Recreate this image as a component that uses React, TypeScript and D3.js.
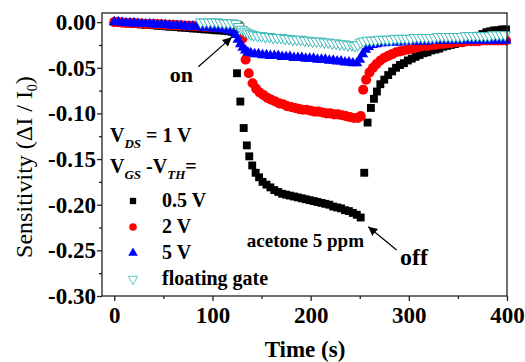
import * as d3 from "d3";
import { useEffect, useRef } from "react";

// [time (s), sensitivity ΔI/I0]
const gate05V: [number, number][] = [
  [0, 0], [4, -0.0005], [8, -0.001], [12, -0.001], [16, -0.0015], [20, -0.002], [24, -0.002], [28, -0.0025],
  [32, -0.003], [36, -0.003], [40, -0.0035], [44, -0.004], [48, -0.004], [52, -0.0045], [56, -0.005], [60, -0.005],
  [64, -0.0055], [68, -0.006], [72, -0.006], [76, -0.0065], [80, -0.007], [84, -0.007], [88, -0.0075], [92, -0.008],
  [96, -0.008], [100, -0.0085], [104, -0.009], [108, -0.009], [112, -0.0095], [116, -0.01], [120, -0.0105], [122, -0.011],
  [125, -0.056], [128.4, -0.087], [131.8, -0.116], [135, -0.135], [137.5, -0.147], [140.5, -0.157], [144, -0.165],
  [147.5, -0.17], [151, -0.175], [155, -0.178], [159, -0.181], [163, -0.184], [167, -0.186], [171, -0.188], [175, -0.189],
  [179, -0.19], [183, -0.191], [187, -0.192], [191, -0.193], [195, -0.194], [199, -0.195], [203, -0.196], [207, -0.197],
  [211, -0.198], [215, -0.199], [219, -0.2], [223, -0.202], [227, -0.203], [231, -0.204], [235, -0.206], [239, -0.207],
  [243, -0.209], [247, -0.211], [251, -0.214],
  [254.6, -0.165], [258, -0.11], [261.4, -0.094], [264.5, -0.084], [267.5, -0.076], [271, -0.068], [275, -0.063],
  [279, -0.058], [283, -0.054], [287, -0.05], [291, -0.047], [295, -0.045], [299, -0.042], [303, -0.04], [307, -0.038],
  [311, -0.036], [315, -0.034], [319, -0.033], [323, -0.031], [327, -0.03], [331, -0.029], [335, -0.027], [339, -0.026],
  [343, -0.025], [347, -0.024], [351, -0.023], [355, -0.022], [359, -0.021], [363, -0.019], [367, -0.017], [371, -0.015],
  [375, -0.013], [379, -0.011], [383, -0.01], [387, -0.009], [391, -0.009], [395, -0.008], [399, -0.008],
];

const gate2V: [number, number][] = [
  [0, 0], [4, 0], [8, -0.0005], [12, -0.001], [16, -0.001], [20, -0.001], [24, -0.0015], [28, -0.0015],
  [32, -0.002], [36, -0.002], [40, -0.002], [44, -0.0025], [48, -0.0025], [52, -0.003], [56, -0.003], [60, -0.003],
  [64, -0.0035], [68, -0.0035], [72, -0.004], [76, -0.004], [80, -0.004], [84, -0.0045], [88, -0.0045], [92, -0.005],
  [96, -0.005], [100, -0.005], [104, -0.0055], [108, -0.0055], [112, -0.006], [116, -0.006], [120, -0.005],
  [124, -0.003], [127.5, -0.004], [130.5, -0.018], [133.8, -0.041], [137, -0.056], [140.9, -0.067], [144.5, -0.073],
  [148, -0.077], [152, -0.08], [156, -0.083], [160, -0.085], [164, -0.087], [168, -0.089], [172, -0.09], [176, -0.092],
  [180, -0.093], [184, -0.094], [188, -0.095], [192, -0.096], [196, -0.096], [200, -0.097], [204, -0.098], [208, -0.098],
  [212, -0.099], [216, -0.1], [220, -0.1], [224, -0.101], [228, -0.101], [232, -0.102], [236, -0.103], [240, -0.104],
  [244, -0.105], [248, -0.105], [251, -0.103],
  [253.5, -0.074], [256.5, -0.063], [260, -0.055], [263.5, -0.05], [267, -0.046], [271, -0.042], [275, -0.039],
  [279, -0.037], [283, -0.035], [287, -0.033], [291, -0.032], [295, -0.031], [299, -0.03], [303, -0.029], [307, -0.028],
  [311, -0.027], [315, -0.026], [319, -0.026], [323, -0.025], [327, -0.025], [331, -0.024], [335, -0.024], [339, -0.023],
  [343, -0.023], [347, -0.022], [351, -0.022], [355, -0.022], [359, -0.021], [363, -0.021], [367, -0.021], [371, -0.021],
  [375, -0.02], [379, -0.02], [383, -0.02], [387, -0.02], [391, -0.02], [395, -0.02], [399, -0.02],
];

const gate5V: [number, number][] = [
  [0, 0], [4, 0], [8, -0.0005], [12, -0.001], [16, -0.001], [20, -0.001], [24, -0.0015], [28, -0.002],
  [32, -0.002], [36, -0.002], [40, -0.0025], [44, -0.003], [48, -0.003], [52, -0.003], [56, -0.0035], [60, -0.004],
  [64, -0.004], [68, -0.004], [72, -0.0045], [76, -0.005], [80, -0.005], [84, -0.005], [88, -0.0055], [92, -0.006],
  [96, -0.006], [100, -0.0065], [104, -0.007], [108, -0.0075], [112, -0.008], [116, -0.009], [120, -0.01],
  [123.5, -0.014], [126, -0.019], [128.5, -0.024], [131, -0.028], [133.5, -0.031], [136, -0.033], [139, -0.034],
  [143, -0.035], [147, -0.035], [151, -0.036], [155, -0.036], [159, -0.037], [163, -0.037], [167, -0.037], [171, -0.038],
  [175, -0.038], [179, -0.038], [183, -0.039], [187, -0.039], [191, -0.039], [195, -0.04], [199, -0.04], [203, -0.04],
  [207, -0.041], [211, -0.041], [215, -0.041], [219, -0.042], [223, -0.042], [227, -0.043], [231, -0.043], [235, -0.044],
  [239, -0.044], [243, -0.045], [247, -0.045],
  [250, -0.041], [253, -0.035], [256, -0.03], [259, -0.027], [263, -0.025], [267, -0.024], [271, -0.023], [275, -0.023],
  [279, -0.022], [283, -0.022], [287, -0.022], [291, -0.022], [295, -0.021], [299, -0.021], [303, -0.021], [307, -0.021],
  [311, -0.021], [315, -0.021], [319, -0.021], [323, -0.02], [327, -0.02], [331, -0.02], [335, -0.02], [339, -0.02],
  [343, -0.02], [347, -0.02], [351, -0.02], [355, -0.02], [359, -0.02], [363, -0.02], [367, -0.02], [371, -0.02],
  [375, -0.02], [379, -0.02], [383, -0.02], [387, -0.02], [391, -0.02], [395, -0.02], [399, -0.02],
];

const floatingGate: [number, number][] = [
  [88, 0], [92, 0], [96, 0], [100, 0], [104, 0], [108, -0.0005], [112, -0.001], [116, -0.001], [120, -0.001],
  [124, -0.002], [127, -0.005], [130, -0.008], [133, -0.01], [136, -0.012], [139, -0.013], [142, -0.014], [146, -0.015],
  [150, -0.015], [154, -0.016], [158, -0.016], [162, -0.017], [166, -0.017], [170, -0.017], [174, -0.018], [178, -0.018],
  [182, -0.019], [186, -0.019], [190, -0.019], [194, -0.02], [198, -0.02], [202, -0.021], [206, -0.021], [210, -0.021],
  [214, -0.022], [218, -0.022], [222, -0.023], [226, -0.023], [230, -0.024], [234, -0.024], [238, -0.025], [242, -0.025],
  [245, -0.026], [248, -0.025], [251, -0.022], [254, -0.021], [258, -0.02], [262, -0.02], [266, -0.02], [270, -0.019],
  [274, -0.019], [278, -0.019], [282, -0.019], [286, -0.018], [290, -0.018], [294, -0.018], [298, -0.018], [302, -0.018],
  [306, -0.017], [310, -0.017], [314, -0.017], [318, -0.017], [322, -0.017], [326, -0.017], [330, -0.016], [334, -0.016],
  [338, -0.016], [342, -0.016], [346, -0.016], [350, -0.016], [354, -0.016], [358, -0.015], [362, -0.015], [366, -0.015],
  [370, -0.015], [374, -0.015], [378, -0.015], [382, -0.015], [386, -0.014], [390, -0.014], [394, -0.014], [398, -0.014],
];

const xTicks = [0, 100, 200, 300, 400];
const xMinor = [50, 150, 250, 350];
const yTicks = [0, -0.05, -0.1, -0.15, -0.2, -0.25, -0.3];
const yMinor = [-0.025, -0.075, -0.125, -0.175, -0.225, -0.275];
const legendLabels = ["0.5 V", "2 V", "5 V", "floating gate"];

const FONT = '"Liberation Serif", "Times New Roman", serif';

const App = () => {
  const svgRef = useRef<SVGSVGElement | null>(null);

  useEffect(() => {
    const svg = d3.select(svgRef.current);
    svg.selectAll("*").remove();

    const x = d3.scaleLinear().domain([-12.5, 400]).range([102, 507]);
    const y = d3.scaleLinear().domain([-0.3, 0.01]).range([296, 13]);

    const defs = svg.append("defs");
    defs
      .append("marker")
      .attr("id", "arrow")
      .attr("viewBox", "0 0 10 10")
      .attr("refX", 10)
      .attr("refY", 5)
      .attr("markerWidth", 9)
      .attr("markerHeight", 9)
      .attr("markerUnits", "userSpaceOnUse")
      .attr("orient", "auto")
      .append("path")
      .attr("d", "M0,0 L10,5 L0,10 z")
      .attr("fill", "black");

    const series = [
      { data: gate05V, type: d3.symbolSquare, size: 62, fill: "#000", stroke: "none", rot: 0 },
      { data: gate2V, type: d3.symbolCircle, size: 80, fill: "#ff0000", stroke: "none", rot: 0 },
      { data: gate5V, type: d3.symbolTriangle, size: 52, fill: "#0000ff", stroke: "none", rot: 0 },
      { data: floatingGate, type: d3.symbolTriangle, size: 52, fill: "#ffffff", stroke: "#3fb9b9", rot: 180 },
    ];

    series.forEach((s) => {
      svg
        .append("g")
        .selectAll("path")
        .data(s.data)
        .enter()
        .append("path")
        .attr("transform", (d) => `translate(${x(d[0])},${y(d[1])}) rotate(${s.rot})`)
        .attr("d", d3.symbol(s.type, s.size)()!)
        .attr("fill", s.fill)
        .attr("stroke", s.stroke)
        .attr("stroke-width", 1);
    });

    // frame
    svg
      .append("rect")
      .attr("x", 102)
      .attr("y", 13)
      .attr("width", 405)
      .attr("height", 283)
      .attr("fill", "none")
      .attr("stroke", "#222")
      .attr("stroke-width", 1.3);

    const styleAxis = (g: d3.Selection<SVGGElement, unknown, null, undefined>) => {
      g.select(".domain").remove();
      g.selectAll("line").attr("stroke", "#222").attr("stroke-width", 1.3);
      g.attr("font-family", FONT).attr("font-size", 23).attr("font-weight", "bold");
      g.selectAll("text").attr("fill", "#000");
    };

    const xAxis = svg
      .append("g")
      .attr("transform", "translate(0,296)")
      .call(d3.axisBottom(x).tickValues(xTicks).tickSize(5).tickPadding(6).tickFormat(d3.format("d")));
    styleAxis(xAxis);
    const xAxisMinor = svg
      .append("g")
      .attr("transform", "translate(0,296)")
      .call(d3.axisBottom(x).tickValues(xMinor).tickSize(3).tickFormat(() => ""));
    styleAxis(xAxisMinor);

    const yAxis = svg
      .append("g")
      .attr("transform", "translate(102,0)")
      .call(d3.axisLeft(y).tickValues(yTicks).tickSize(5).tickPadding(1).tickFormat((d) => (+d).toFixed(2)));
    styleAxis(yAxis);
    const yAxisMinor = svg
      .append("g")
      .attr("transform", "translate(102,0)")
      .call(d3.axisLeft(y).tickValues(yMinor).tickSize(3).tickFormat(() => ""));
    styleAxis(yAxisMinor);

    // axis titles
    svg
      .append("text")
      .attr("x", 305)
      .attr("y", 357)
      .attr("text-anchor", "middle")
      .attr("font-family", FONT)
      .attr("font-size", 23)
      .attr("font-weight", "bold")
      .text("Time (s)");

    const yTitle = svg
      .append("text")
      .attr("transform", "translate(32,167) rotate(-90)")
      .attr("text-anchor", "middle")
      .attr("font-family", FONT)
      .attr("font-size", 24);
    yTitle.append("tspan").text("Sensitivity (\u0394I / I");
    yTitle.append("tspan").attr("font-size", 14).attr("dy", 5).text("0");
    yTitle.append("tspan").attr("dy", -5).text(")");

    // legend
    const lx = 110;
    const vds = svg
      .append("text")
      .attr("x", lx)
      .attr("y", 142)
      .attr("font-family", FONT)
      .attr("font-size", 20)
      .attr("font-weight", "bold");
    vds.append("tspan").text("V");
    vds.append("tspan").attr("font-size", 13).attr("font-style", "italic").attr("dy", 6).text("DS");
    vds.append("tspan").attr("dy", -6).text(" = 1 V");

    const vgs = svg
      .append("text")
      .attr("x", lx)
      .attr("y", 173)
      .attr("font-family", FONT)
      .attr("font-size", 20)
      .attr("font-weight", "bold");
    vgs.append("tspan").text("V");
    vgs.append("tspan").attr("font-size", 13).attr("font-style", "italic").attr("dy", 6).text("GS");
    vgs.append("tspan").attr("dy", -6).text(" -V");
    vgs.append("tspan").attr("font-size", 13).attr("font-style", "italic").attr("dy", 6).text("TH");
    vgs.append("tspan").attr("dy", -6).text("=");

    const legendSyms = [
      { type: d3.symbolSquare, size: 40, fill: "#000", stroke: "none", rot: 0 },
      { type: d3.symbolCircle, size: 45, fill: "#ff0000", stroke: "none", rot: 0 },
      { type: d3.symbolTriangle, size: 40, fill: "#0000ff", stroke: "none", rot: 0 },
      { type: d3.symbolTriangle, size: 40, fill: "none", stroke: "#5cc8c8", rot: 180 },
    ];
    legendLabels.forEach((label, i) => {
      const cy = 201 + i * 26;
      const s = legendSyms[i];
      svg
        .append("path")
        .attr("transform", `translate(133,${cy}) rotate(${s.rot})`)
        .attr("d", d3.symbol(s.type, s.size)()!)
        .attr("fill", s.fill)
        .attr("stroke", s.stroke)
        .attr("stroke-width", 1);
      svg
        .append("text")
        .attr("x", 162)
        .attr("y", cy + 6)
        .attr("font-family", FONT)
        .attr("font-size", 20)
        .attr("font-weight", "bold")
        .text(label);
    });

    // annotations
    const note = (t: number, v: number, size: number, label: string) =>
      svg
        .append("text")
        .attr("x", x(t))
        .attr("y", y(v))
        .attr("font-family", FONT)
        .attr("font-size", size)
        .attr("font-weight", "bold")
        .text(label);
    note(56.5, -0.0655, 22, "on");
    note(135, -0.2465, 19, "acetone 5 ppm");
    note(291, -0.266, 24, "off");

    const arrow = (t0: number, v0: number, t1: number, v1: number) =>
      svg
        .append("line")
        .attr("x1", x(t0))
        .attr("y1", y(v0))
        .attr("x2", x(t1))
        .attr("y2", y(v1))
        .attr("stroke", "black")
        .attr("stroke-width", 1.2)
        .attr("marker-end", "url(#arrow)");
    arrow(85.6, -0.0489, 119.6, -0.0167);
    arrow(287.6, -0.2497, 258.7, -0.2241);
  }, []);

  return (
    <svg
      ref={svgRef}
      width={525}
      height={362}
      style={{ position: "absolute", left: 0, top: 0, background: "#fff" }}
    />
  );
};

export default App;
